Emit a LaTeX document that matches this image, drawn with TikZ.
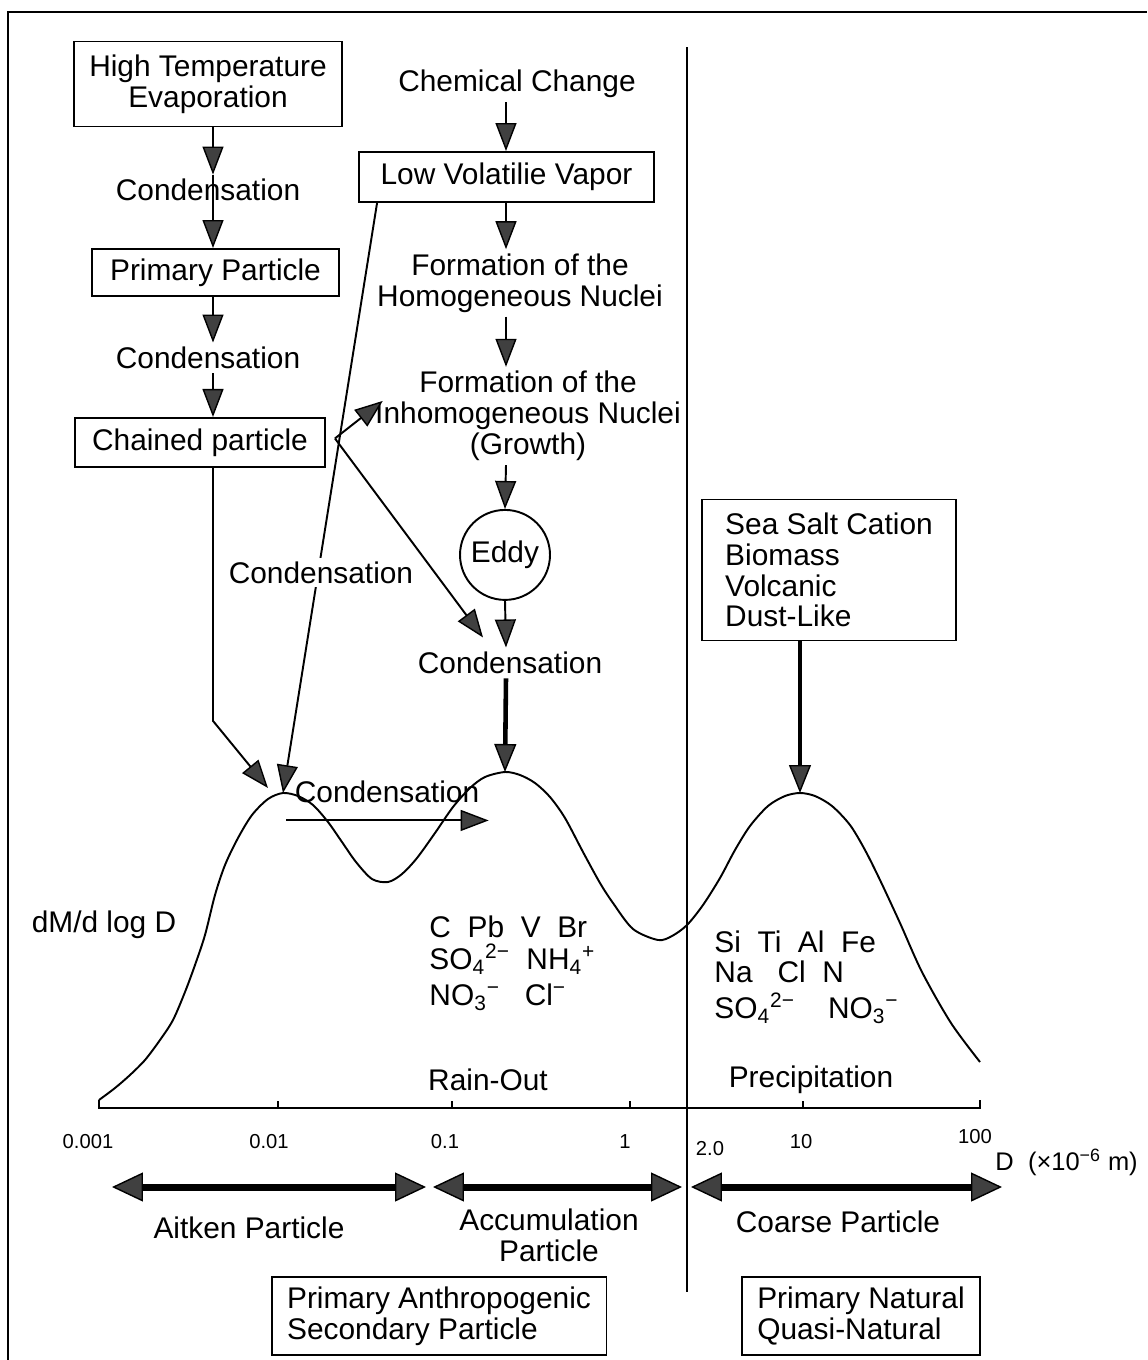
\documentclass[tikz,border=0pt]{standalone}
\usepackage{fontspec}
\setmainfont{Liberation Sans}
\usepackage{tikz}
\usetikzlibrary{positioning, arrows.meta, calc}
\tikzset{main node/.style={draw, line width=1.1pt, align=center, inner sep=2pt},}
\tikzset{text node/.style={align=center, inner sep=2pt},}
\tikzset{flow arrow/.style={-{Triangle[length=0.56cm, width=0.42cm, line width=0.8pt, fill=black!75]}, line width=1.1pt},}
\tikzset{heavy arrow/.style={-{Triangle[length=0.56cm, width=0.44cm, line width=0.8pt, fill=black!75]}, line width=2.6pt},}
\tikzset{range arrow/.style={{Triangle[length=0.62cm, width=0.58cm, line width=0.8pt, fill=black!75]}-{Triangle[length=0.62cm, width=0.58cm, line width=0.8pt, fill=black!75]}, line width=4pt},}
\tikzset{tick label/.style={inner sep=1pt, font=\fontsize{11.5}{12}\selectfont},}

\begin{document}
\begin{tikzpicture}[-, x=0.02cm, y=-0.02cm, line width=1.1pt, on grid, font=\fontsize{17}{17.5}\selectfont]
				\useasboundingbox (0,0) rectangle (1147,1360);
				% Frame and divider
				\draw (8,1360) -- (8,12) -- (1147,12);
				\draw (687,47) -- (687,1292);
				% Primary side
				\node[main node, minimum width=5.36cm, minimum height=1.7cm] (1) at (208,84) {High Temperature\\Evaporation};
				\node[text node] [below=2.12cm of 1] (2) {Condensation};
				\node[main node, minimum width=4.94cm, minimum height=0.94cm] [below right=1.65cm and 0.15cm of 2] (3) {Primary Particle};
				\node[text node] [below left=1.71cm and 0.15cm of 3] (4) {Condensation};
				\node[main node, minimum width=5cm, minimum height=0.98cm] [below left=1.69cm and 0.16cm of 4] (5) {Chained particle};
				% Secondary side
				\node[text node] (6) at (517,84) {Chemical Change};
				\node[main node, minimum width=5.9cm, minimum height=1cm] [below left=1.86cm and 0.21cm of 6] (7) {Low Volatilie Vapor};
				\node[text node] [below right=2.12cm and 0.27cm of 7] (8) {Formation of the\\Homogeneous Nuclei};
				\node[text node] [below right=2.66cm and 0.16cm of 8] (9) {Formation of the\\Inhomogeneous Nuclei\\(Growth)};
				\node[main node, circle, minimum size=1.8cm] [below left=2.78cm and 0.46cm of 9] (10) {Eddy};
				\node[text node] [below right=2.16cm and 0.1cm of 10] (11) {Condensation};
				% Natural side
				\node[main node, minimum width=5.08cm, minimum height=2.82cm, align=left] (13) at (829,570) {Sea Salt Cation\\Biomass\\Volcanic\\Dust-Like};
				% Peaks of the distribution
				\coordinate (pk1) at (283,793);
				\coordinate (pk2) at (505,772);
				\coordinate (pk3) at (800,793);
				\draw plot[smooth] coordinates {(99,1100) (115,1088) (130,1075) (145,1060) (160,1040) (173,1020) (185,992) (195,965) (205,935) (215,895) (225,865) (238,838) (252,815) (268,799) (283,793) (298,796) (313,805) (328,822) (342,842) (356,862) (372,879) (388,882) (402,874) (417,858) (435,833) (453,807) (470,788) (485,777) (505,772) (520,775) (535,783) (550,797) (565,818) (583,852) (600,883) (613,903) (633,929) (658,940) (672,936) (687,925) (703,905) (720,878) (735,850) (750,826) (768,806) (785,796) (800,793) (815,796) (832,806) (850,825) (865,850) (880,880) (900,923) (922,972) (951,1023) (980,1062)};
				% Axis
				\draw (99,1100) -- (99,1108) -- (980,1108) -- (980,1100);
				\foreach \x in {278,452,630,803}
					\draw (\x,1108) -- (\x,1101);
				\foreach \x/\t in {88/0.001, 269/0.01, 445/0.1, 625/1, 801/10}
					\node[tick label] (t\x) at (\x,1142) {\t};
				\node[tick label] (t2) at (710,1149) {2.0};
				\node[tick label] (t100) at (975,1137) {100};
				\node[text node, anchor=west, font=\fontsize{14.5}{15}\selectfont] (25) at (991,1162) {D\ \ (×10\textsuperscript{−6} m)};
				% Flow arrows
				\coordinate (colL) at (213,0);
				\coordinate (colM) at (506,0);
				\coordinate (colR) at (800,0);
				\draw[flow arrow] (colL |- 1.south) -- (colL |- 2.north);
				\draw[flow arrow] (colL |- 2.north) -- (colL |- 3.north);
				\draw[flow arrow] (colL |- 3.south) -- (colL |- 4.north);
				\draw[flow arrow] (colL |- 4.south) -- (colL |- 5.north);
				\draw[flow arrow] (colL |- 5.south) -- ++(0,253) -- ($(pk1)+(-15,-5)$);
				\coordinate (split) at ($(5.east)+(9,-4)$);
				\draw[flow arrow] (split) -- ($(9.west)+(12,-15)$);
				\draw[flow arrow] (split) -- ($(11.north)+(-27,-10)$);
				\draw[flow arrow] ($(7.south west)+(19,0)$) -- (pk1);
				\draw[flow arrow] (colM |- 6.south) -- (colM |- 7.north);
				\draw[flow arrow] (colM |- 7.south) -- (colM |- 8.north);
				\draw[flow arrow] (colM |- 8.south) -- (colM |- 9.north);
				\draw[flow arrow] (colM |- 9.south) -- (10.north);
				\draw[flow arrow] (10.south) -- (colM |- 11.north);
				\draw[heavy arrow] (colM |- 11.south) -- (pk2);
				\draw[heavy arrow] (colR |- 13.south) -- (pk3);
				\node[text node, fill=white] [below right=2.6cm and 2.42cm of 5] (12) {Condensation};
				\node[text node] (14) at ($(pk1)+(104,-1)$) {Condensation};
				\draw[flow arrow] ($(14.south west)+(-4,13)$) -- ($(14.south east)+(5,13)$);
				% Labels in the chart
				\node[text node] (15) at (104,925) {dM/d log D};
				\node[text node, anchor=north west, align=left] (16) at (425,911) {C~~Pb~~V~~Br\\[1pt]SO\textsubscript{4}\textsuperscript{2−}~~NH\textsubscript{4}\textsuperscript{+}\\[3pt]NO\textsubscript{3}\textsuperscript{−}~~~Cl\textsuperscript{−}};
				\node[text node, anchor=north west, align=left] (17) at (710,926) {Si~~Ti~~Al~~Fe\\Na~~~Cl~~N\\[3pt]SO\textsubscript{4}\textsuperscript{2−}~~~~NO\textsubscript{3}\textsuperscript{−}};
				\node[text node] (18) at (488,1080) {Rain-Out};
				\node[text node] (19) at (811,1080) {Precipitation};
				% Size ranges
				\coordinate (r1) at (112,1187);
				\coordinate (r2) at (426,1187);
				\coordinate (r3) at (433,1187);
				\coordinate (r4) at (682,1187);
				\coordinate (r5) at (691,1187);
				\coordinate (r6) at (1002,1187);
				\draw[range arrow] (r1) -- (r2);
				\draw[range arrow] (r3) -- (r4);
				\draw[range arrow] (r5) -- (r6);
				\node[text node] (20) at (249,1228) {Aitken Particle};
				\node[text node] (21) at (549,1235) {Accumulation\\Particle};
				\node[text node] (22) at (838,1222) {Coarse Particle};
				% Origins
				\node[main node, minimum width=6.7cm, minimum height=1.56cm, align=left] (23) at (439,1316) {Primary Anthropogenic\\Secondary Particle};
				\node[main node, minimum width=4.76cm, minimum height=1.56cm, align=left] (24) at (861,1316) {Primary Natural\\Quasi-Natural};
			\end{tikzpicture}
\end{document}
